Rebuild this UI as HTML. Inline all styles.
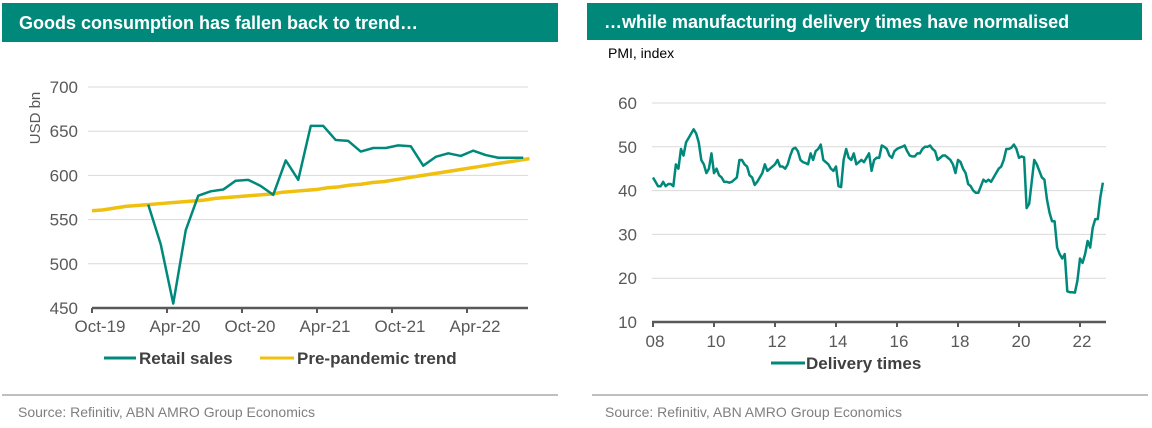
<!DOCTYPE html>
<html><head><meta charset="utf-8"><style>
body{margin:0;width:1152px;height:428px;background:#fff;overflow:hidden;font-family:"Liberation Sans",Arial,sans-serif;}
svg{position:absolute;left:0;top:0}
</style></head><body>
<svg id="s" width="1152" height="428">
<rect x="2" y="3" width="556" height="39" fill="#00897b"/>
<text x="19" y="29" fill="#fff" font-size="18" font-weight="bold">Goods consumption has fallen back to trend…</text>
<rect x="587" y="3" width="555" height="37" fill="#00897b"/>
<text x="604" y="28" fill="#fff" font-size="18" font-weight="bold">…while manufacturing delivery times have normalised</text>
<text transform="translate(40,118) rotate(-90)" text-anchor="middle" fill="#595959" font-size="15">USD bn</text>
<text x="608" y="58" fill="#000" font-size="14">PMI, index</text>
<g id="L"></g><g id="R"></g>
<line x1="2" y1="395" x2="558" y2="395" stroke="#bfbfbf" stroke-width="2"/>
<line x1="592" y1="395" x2="1148" y2="395" stroke="#bfbfbf" stroke-width="2"/>
<text x="18" y="417" fill="#7f7f7f" font-size="14">Source: Refinitiv, ABN AMRO Group Economics</text>
<text x="605" y="417" fill="#7f7f7f" font-size="14">Source: Refinitiv, ABN AMRO Group Economics</text>
<line x1="104" y1="358" x2="136" y2="358" stroke="#00897b" stroke-width="3"/>
<text x="139" y="364" fill="#404040" font-size="17" font-weight="bold">Retail sales</text>
<line x1="260" y1="358" x2="294" y2="358" stroke="#f0c010" stroke-width="3"/>
<text x="297" y="364" fill="#404040" font-size="17" font-weight="bold">Pre-pandemic trend</text>
<line x1="771" y1="363" x2="805" y2="363" stroke="#00897b" stroke-width="3"/>
<text x="806" y="369" fill="#404040" font-size="17" font-weight="bold">Delivery times</text>
</svg>
<script>
// Left chart data
const leftYTicks=[450,500,550,600,650,700];
const leftXLabels=["Oct-19","Apr-20","Oct-20","Apr-21","Oct-21","Apr-22"];
const retailStart=4; // Feb-20 month index from Oct-19
const retailSales=[567,522,455,538,577,582,584,594,595,588,578,617,595,656,656,640,639,627,631,631,634,633,611,621,625,622,628,623,620,620,620];
const trend=[560,561,563,565,566,567,568,569,570,571,572,574,575,576,577,578,579,581,582,583,584,586,587,589,590,592,593,595,597,599,601,603,605,607,609,611,613,615,617,619];
// Right chart data
const rightYTicks=[10,20,30,40,50,60];
const rightXLabels=["08","10","12","14","16","18","20","22"];
const deliveryTimes=[
43,42,41,41,42,41,41.5,41.5,41,46,45,49.5,
48,51,52,53,54,53,51,47,46,44,45,48.5,
44,45,43.5,43,42,42,41.8,42,42.5,43,47,47,
46,45.5,43.5,43,41.3,42,43,44,46,44.5,45,45.5,
46,47,45.5,45.5,45,46,48,49.5,49.8,49,47,46.5,
46.3,46,48.5,47,49,49.5,50.5,47,46.5,46,45,44.5,
45.5,41,40.8,47,49.5,47.5,47,48.5,46,46.5,47,46.5,
47.5,48.5,44.5,47,47.5,47.5,50.3,50,49.5,48,47.5,49,
49.5,49.8,50,50.3,49,48,47.8,47.8,48.5,48.5,49.5,50,
50,50.3,49.5,49,47,47.5,48,48,47.5,47,46,44,
47,46.5,45,44,41.5,41,40,39.5,39.5,41,42.5,42,
42.5,42,43,44,45,45.5,47,49.5,49.5,49.8,50.5,49.5,
47.5,47.8,47.6,36,37,42,47,46,44.5,43,42.5,38,
35,33,33,27,25.5,24.5,25.5,17,16.8,16.8,16.7,19.5,
24.5,23.5,25.5,28.5,27,31.5,33.5,33.5,38.5,41.8];

const NS="http://www.w3.org/2000/svg";
function mk(p,t,a){const e=document.createElementNS(NS,t);for(const k in a)e.setAttribute(k,a[k]);p.appendChild(e);return e;}

// Left axes
const lx=m=>92+m*12.5, ly=v=>308-(v-450)*(221/250);
const L=document.getElementById('L');
leftYTicks.forEach(v=>{
  if(v>450){const g=mk(L,'line',{x1:88,x2:528,y1:ly(v),y2:ly(v),stroke:'#d9d9d9','stroke-width':1});
  
  }
  const t=mk(L,'text',{x:78,y:ly(v)+6,'text-anchor':'end',fill:'#595959','font-size':17});t.textContent=v;
  
  
});
leftXLabels.forEach((s,i)=>{
  const x=lx(i*6);
  const tk=mk(L,'line',{x1:x,x2:x,y1:308,y2:313,stroke:'#595959','stroke-width':2});
  
  
  const t=mk(L,'text',{x:x+8,y:332,'text-anchor':'middle',fill:'#595959','font-size':17});t.textContent=s;
  
  
});
let ax=mk(L,'line',{x1:92,x2:528,y1:308,y2:308,stroke:'#595959','stroke-width':2.5});


let tp=mk(L,'polyline',{points:trend.map((v,i)=>lx(i*35/(trend.length-1))+','+ly(v)).join(' '),fill:'none',stroke:'#f0c010','stroke-width':3.5});


let rp=mk(L,'polyline',{points:retailSales.map((v,i)=>lx(retailStart+i+0.5)+','+ly(v)).join(' '),fill:'none',stroke:'#00897b','stroke-width':2.5,'stroke-linejoin':'round'});



// Right axes
const rx=m=>653+m*(427/168), ry=v=>322-(v-10)*(219/50);
const R=document.getElementById('R');
rightYTicks.forEach(v=>{
  if(v>10){const g=mk(R,'line',{x1:652,x2:1106,y1:ry(v),y2:ry(v),stroke:'#d9d9d9','stroke-width':1});
  
  }
  const t=mk(R,'text',{x:637,y:ry(v)+6,'text-anchor':'end',fill:'#595959','font-size':17});t.textContent=v;
  
  
});
rightXLabels.forEach((s,i)=>{
  const x=rx(i*24);
  const tk=mk(R,'line',{x1:x,x2:x,y1:322,y2:327,stroke:'#595959','stroke-width':2});
  
  
  const t=mk(R,'text',{x:x+2,y:347,'text-anchor':'middle',fill:'#595959','font-size':17});t.textContent=s;
  
  
});
ax=mk(R,'line',{x1:652,x2:1106,y1:322,y2:322,stroke:'#595959','stroke-width':2.5});


let dp=mk(R,'polyline',{points:deliveryTimes.map((v,i)=>rx(i)+','+ry(v)).join(' '),fill:'none',stroke:'#00897b','stroke-width':2.5,'stroke-linejoin':'round'});


</script>
</body></html>
